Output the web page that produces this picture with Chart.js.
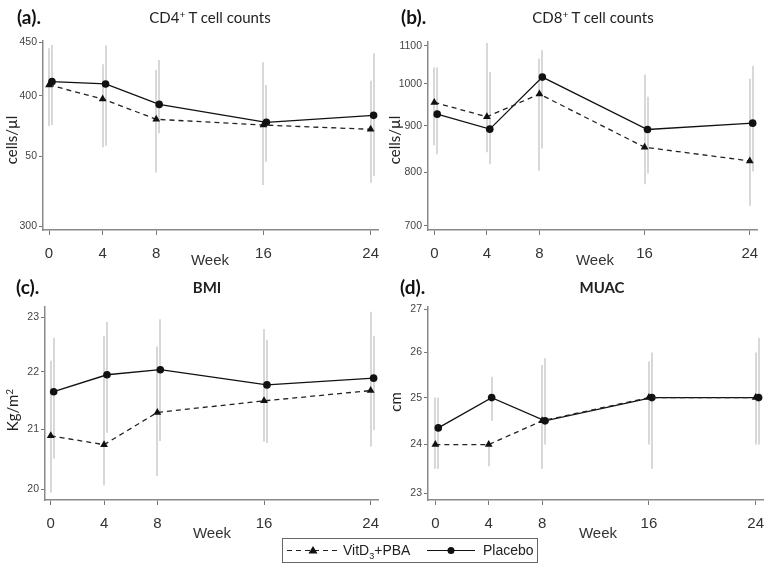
<!DOCTYPE html>
<html>
<head>
<meta charset="utf-8">
<script src="https://cdn.jsdelivr.net/npm/chart.js@4.4.1/dist/chart.umd.min.js"></script>
<style>
  body { margin: 0; background: #fff; width: 771px; height: 569px; position: relative; overflow: hidden;
         font-family: Lato, "Liberation Sans", sans-serif; color: #222; }
  canvas { position: absolute; }
  .lbl { position: absolute; font-weight: bold; font-size: 19px; line-height: 20px; color: #111; }
  .ttl { position: absolute; font-size: 15px; line-height: 18px; transform: translate(-50%, -50%); white-space: nowrap; }
  .ttl sup { font-size: 10px; vertical-align: 5px; line-height: 0; }
  .ytl { position: absolute; font-size: 15px; line-height: 18px; transform: translate(-50%, -50%) rotate(-90deg); white-space: nowrap; }
  .ytl sup { font-size: 10px; vertical-align: 5px; line-height: 0; }
  .wk { position: absolute; font-size: 15px; line-height: 18px; color: #333; transform: translate(-50%, -50%);
        font-family: "Liberation Sans Narrow", "Liberation Sans", sans-serif; }
  #legend { position: absolute; left: 282px; top: 538px; width: 254px; height: 23px; border: 1px solid #666;
            font-family: "Liberation Sans Narrow", "Liberation Sans", sans-serif; font-size: 14px; }
  #legend span { position: absolute; top: 3px; }
  #legend sub { font-size: 9px; }
  #legend svg { position: absolute; top: 0; }
</style>
</head>
<body>

<canvas id="cd4" width="385" height="270" style="left:0;top:0"></canvas>
<canvas id="cd8" width="386" height="270" style="left:385px;top:0"></canvas>
<canvas id="bmi" width="385" height="270" style="left:0;top:270px"></canvas>
<canvas id="muac" width="386" height="270" style="left:385px;top:270px"></canvas>

<!-- etiquetas de panel, titulos y ejes -->
<div class="lbl" style="left:17px;top:7px">(a).</div>
<div class="ttl" style="left:210px;top:17px">CD4<sup>+</sup> T cell counts</div>
<div class="lbl" style="left:401px;top:7px">(b).</div>
<div class="ttl" style="left:593px;top:17px">CD8<sup>+</sup> T cell counts</div>
<div class="lbl" style="left:16px;top:277px">(c).</div>
<div class="ttl" style="left:207px;top:287px;font-weight:bold">BMI</div>
<div class="lbl" style="left:400px;top:277px">(d).</div>
<div class="ttl" style="left:602px;top:287px;font-weight:bold">MUAC</div>

<div class="ytl" style="left:11px;top:140px">cells/µl</div>
<div class="ytl" style="left:394px;top:140px">cells/µl</div>
<div class="ytl" style="left:12px;top:410px">Kg/m<sup>2</sup></div>
<div class="ytl" style="left:395px;top:402px">cm</div>

<div class="wk" style="left:210px;top:260px">Week</div>
<div class="wk" style="left:595px;top:260px">Week</div>
<div class="wk" style="left:212px;top:533px">Week</div>
<div class="wk" style="left:598px;top:533px">Week</div>

<div id="legend">
  <svg width="60" height="23" style="left:2px">
    <line x1="2" y1="11.5" x2="54" y2="11.5" stroke="#222" stroke-width="1.2" stroke-dasharray="5,4"/>
    <polygon points="28,7 32.5,14.5 23.5,14.5" fill="#111"/>
  </svg>
  <span style="left:60px">VitD<sub>3</sub>+PBA</span>
  <svg width="54" height="23" style="left:142px">
    <line x1="2" y1="11.5" x2="50" y2="11.5" stroke="#111" stroke-width="1.2"/>
    <circle cx="26" cy="11.5" r="3.5" fill="#111"/>
  </svg>
  <span style="left:200px">Placebo</span>
</div>

<script>
// Semanas de seguimiento (eje X comun a los cuatro paneles)
const weeks = [0, 4, 8, 16, 24];

// (a) Linfocitos CD4+ (cells/µl)
const vitdCd4 = [409.6, 397.1, 379.7, 374.9, 371.4];
const placeboCd4 = [412.6, 410.5, 392.4, 377.2, 383.0];
const vitdCd4Low = [374.1, 356.9, 337.7, 328.4, 330.1];
const vitdCd4High = [444.1, 428.7, 423.4, 430.6, 413.5];
const placeboCd4Low = [374.9, 358.2, 368.1, 345.8, 335.0];
const placeboCd4High = [447.4, 446.8, 432.8, 409.6, 439.2];
const cd4Ticks = [300, 350, 400, 450];
const cd4TickLabels = ['300', '50', '400', '450'];

// (b) Linfocitos CD8+ (cells/µl)
const vitdCd8 = [954.4, 920.5, 974.7, 852.7, 823.9];
const placeboCd8 = [926.7, 892.4, 1017.2, 891.6, 905.9];
const vitdCd8Low = [857, 842, 804, 777, 736];
const vitdCd8High = [1042, 1108, 1066, 1024, 1013];
const placeboCd8Low = [838, 817, 850, 798, 802];
const placeboCd8High = [1042, 1030, 1088, 968, 1046];
const cd8Ticks = [700, 800, 900, 1000, 1100];

// (c) Indice de masa corporal (Kg/m2)
const vitdBmi = [20.89, 20.74, 21.29, 21.49, 21.67];
const placeboBmi = [21.65, 21.95, 22.04, 21.77, 21.89];
const vitdBmiLow = [19.95, 20.07, 20.22, 20.79, 20.71];
const vitdBmiHigh = [22.2, 22.65, 22.46, 22.78, 23.1];
const placeboBmiLow = [20.51, 20.94, 20.8, 20.77, 20.99];
const placeboBmiHigh = [22.62, 22.91, 22.96, 22.58, 22.65];
const bmiTicks = [20, 21, 22, 23];

// (d) Circunferencia braquial (cm)
const vitdMuac = [24, 24, 24.5, 25, 25];
const placeboMuac = [24.35, 25, 24.5, 25, 25];
const vitdMuacLow = [23.5, 23.55, 23.5, 24.0, 24.0];
const vitdMuacHigh = [25, 24, 25.72, 25.8, 26.0];
const placeboMuacLow = [23.5, 24.5, 24.0, 23.5, 24.0];
const placeboMuacHigh = [25, 25.46, 25.87, 26.0, 26.33];
const muacTicks = [23, 24, 25, 26, 27];

// Desplazamiento horizontal del grupo placebo (en semanas) para que no se tapen
const PLACEBO_SHIFT = 0.22;

// Plugin que dibuja las barras de error grises usando las escalas del grafico
const errorBarPlugin = {
  id: 'errorBars',
  beforeDatasetsDraw(chart, args, opts) {
    const { ctx, chartArea, scales: { x, y } } = chart;
    ctx.save();
    ctx.beginPath();
    ctx.rect(chartArea.left, chartArea.top, chartArea.right - chartArea.left, chartArea.bottom - chartArea.top);
    ctx.clip();
    ctx.strokeStyle = '#d4d4d4';
    ctx.lineWidth = 1.8;
    opts.bars.forEach(b => {
      b.low.forEach((lo, i) => {
        const px = Math.round(x.getPixelForValue(weeks[i] + b.shift));
        ctx.beginPath();
        ctx.moveTo(px, y.getPixelForValue(lo));
        ctx.lineTo(px, y.getPixelForValue(b.high[i]));
        ctx.stroke();
      });
    });
    ctx.restore();
  }
};

function toPoints(values, shift) {
  return values.map((v, i) => ({ x: weeks[i] + shift, y: v }));
}

// Crea un panel: area de grafico fija en pixeles para calzar con la figura
function makePanel(id, p) {
  const canvas = document.getElementById(id);
  return new Chart(canvas, {
    type: 'line',
    data: {
      datasets: [
        {
          label: 'VitD3+PBA',
          data: toPoints(p.vitd, 0),
          borderColor: '#222',
          backgroundColor: '#111',
          borderWidth: 1.3,
          borderDash: [5, 4],
          pointStyle: 'triangle',
          pointRadius: 4.5,
          pointBorderWidth: 0,
        },
        {
          label: 'Placebo',
          data: toPoints(p.placebo, PLACEBO_SHIFT),
          borderColor: '#111',
          backgroundColor: '#111',
          borderWidth: 1.3,
          pointStyle: 'circle',
          pointRadius: 3.8,
          pointBorderWidth: 0,
        },
      ],
    },
    options: {
      responsive: false,
      animation: false,
      devicePixelRatio: 1,
      layout: { padding: { left: 0, top: p.top, right: p.right, bottom: 0 } },
      plugins: {
        legend: { display: false },
        tooltip: { enabled: false },
        errorBars: {
          bars: [
            { low: p.vitdLow, high: p.vitdHigh, shift: 0 },
            { low: p.placeboLow, high: p.placeboHigh, shift: PLACEBO_SHIFT },
          ],
        },
      },
      scales: {
        x: {
          type: 'linear',
          min: p.xMin,
          max: 24.55,
          afterBuildTicks: s => { s.ticks = weeks.map(v => ({ value: v })); },
          afterFit: s => { s.height = p.xHeight; s.paddingLeft = 0; s.paddingRight = 0; },
          grid: { drawOnChartArea: false, tickLength: 5, color: '#777', tickWidth: 1 },
          border: { color: '#8a8a8a', width: 1.5 },
          ticks: {
            padding: 10,
            color: '#333',
            maxRotation: 0,
            font: { family: '"Liberation Sans Narrow", "Liberation Sans", sans-serif', size: 15 },
          },
        },
        y: {
          type: 'logarithmic',
          min: p.yMin,
          max: p.yMax,
          afterBuildTicks: s => { s.ticks = p.yTicks.map(v => ({ value: v })); },
          afterFit: s => { s.width = p.left; s.paddingTop = 0; s.paddingBottom = 0; },
          grid: { drawOnChartArea: false, tickLength: 4, color: '#777', tickWidth: 1 },
          border: { color: '#8a8a8a', width: 1.5 },
          ticks: {
            padding: 2,
            color: '#444',
            font: { family: '"Liberation Sans", Arial, sans-serif', size: 10.5 },
            callback: (v, i) => (p.yLabels ? p.yLabels[i] : String(v)),
          },
        },
      },
    },
    plugins: [errorBarPlugin],
  });
}

makePanel('cd4', {
  vitd: vitdCd4, placebo: placeboCd4,
  vitdLow: vitdCd4Low, vitdHigh: vitdCd4High, placeboLow: placeboCd4Low, placeboHigh: placeboCd4High,
  yMin: 297.4, yMax: 451.3, yTicks: cd4Ticks, yLabels: cd4TickLabels,
  left: 43, top: 41, right: 7, xHeight: 40, xMin: -0.45,
});

makePanel('cd8', {
  vitd: vitdCd8, placebo: placeboCd8,
  vitdLow: vitdCd8Low, vitdHigh: vitdCd8High, placeboLow: placeboCd8Low, placeboHigh: placeboCd8High,
  yMin: 692.5, yMax: 1111, yTicks: cd8Ticks,
  left: 43, top: 42, right: 14, xHeight: 40, xMin: -0.48,
});

makePanel('bmi', {
  vitd: vitdBmi, placebo: placeboBmi,
  vitdLow: vitdBmiLow, vitdHigh: vitdBmiHigh, placeboLow: placeboBmiLow, placeboHigh: placeboBmiHigh,
  yMin: 19.83, yMax: 23.19, yTicks: bmiTicks,
  left: 45, top: 37, right: 7, xHeight: 40, xMin: -0.43,
});

makePanel('muac', {
  vitd: vitdMuac, placebo: placeboMuac,
  vitdLow: vitdMuacLow, vitdHigh: vitdMuacHigh, placeboLow: placeboMuacLow, placeboHigh: placeboMuacHigh,
  yMin: 22.87, yMax: 27.05, yTicks: muacTicks,
  left: 43, top: 37, right: 8, xHeight: 40, xMin: -0.55,
});
</script>
</body>
</html>
